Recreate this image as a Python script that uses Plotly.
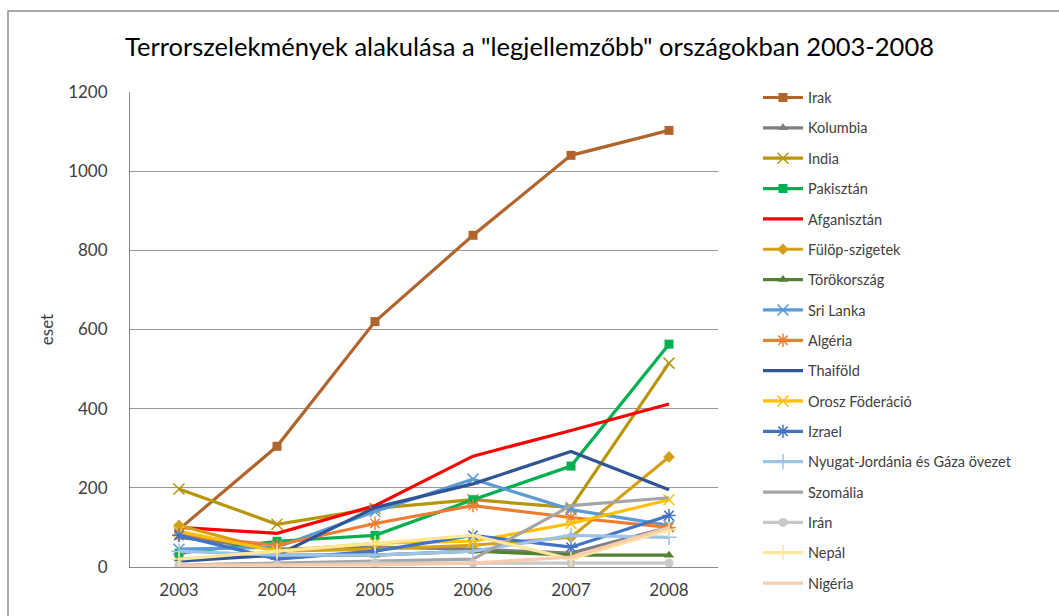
import plotly.graph_objects as go

years = ["2003", "2004", "2005", "2006", "2007", "2008"]

irak = [95, 305, 620, 838, 1040, 1103]
kolumbia = [75, 45, 50, 45, 35, 100]
india = [197, 108, 148, 170, 150, 515]
pakisztan = [35, 65, 80, 170, 255, 563]
afganisztan = [100, 85, 155, 280, 345, 412]
fulop = [105, 40, 45, 55, 75, 278]
torokorszag = [20, 30, 30, 40, 30, 30]
sri_lanka = [45, 50, 140, 222, 145, 105]
algeria = [80, 55, 110, 155, 125, 100]
thaifold = [15, 30, 150, 210, 292, 195]
orosz = [90, 40, 60, 65, 110, 170]
izrael = [80, 20, 40, 80, 50, 130]
nyugat = [40, 30, 30, 40, 80, 75]
szomalia = [5, 10, 15, 20, 155, 175]
iran = [5, 5, 10, 10, 10, 10]
nepal = [20, 40, 60, 80, 20, 95]
nigeria = [5, 5, 5, 10, 25, 100]

series = [
    ("Irak", irak, "#B0652D", "square"),
    ("Kolumbia", kolumbia, "#7F7F7F", "triangle-up"),
    ("India", india, "#B8960C", "x-thin"),
    ("Pakisztán", pakisztan, "#00B050", "square"),
    ("Afganisztán", afganisztan, "#FF0000", None),
    ("Fülöp-szigetek", fulop, "#D4A017", "diamond"),
    ("Törökország", torokorszag, "#548235", "triangle-up"),
    ("Sri Lanka", sri_lanka, "#5B9BD5", "x-thin"),
    ("Algéria", algeria, "#ED7D31", "asterisk"),
    ("Thaiföld", thaifold, "#2F5597", None),
    ("Orosz Föderáció", orosz, "#FFC000", "x-thin"),
    ("Izrael", izrael, "#4472C4", "asterisk"),
    ("Nyugat-Jordánia és Gáza övezet", nyugat, "#9DC3E6", "cross-thin"),
    ("Szomália", szomalia, "#A5A5A5", None),
    ("Irán", iran, "#C9C9C9", "circle"),
    ("Nepál", nepal, "#FFE699", "cross-thin"),
    ("Nigéria", nigeria, "#F8CBAD", None),
]

fig = go.Figure()
for name, vals, color, sym in series:
    if sym:
        thin = sym in ("x-thin", "cross-thin", "asterisk")
        marker = dict(symbol=sym, size=11 if thin else 9, color=color,
                      line=dict(color=color, width=1.5 if thin else 0))
        mode = "lines+markers"
    else:
        marker = None
        mode = "lines"
    fig.add_trace(go.Scatter(
        x=years, y=vals, name=name, mode=mode,
        line=dict(color=color, width=3.2),
        marker=marker, legendgroup=name,
    ))

fig.update_layout(
    width=1059, height=616,
    paper_bgcolor="white", plot_bgcolor="white",
    font=dict(family="Lato, Open Sans, sans-serif", color="#404040", size=14),
    title=dict(text='Terrorszelekmények alakulása a "legjellemzőbb" országokban 2003-2008',
               x=0.5, xanchor="center", y=1 - 47 / 616, yanchor="middle",
               font=dict(size=25.5, color="#000000")),
    margin=dict(l=130, r=341, t=92, b=49),
    showlegend=True,
    legend=dict(x=1.068, xanchor="left", y=1.022, yanchor="top", maxheight=1,
                font=dict(size=14.5, color="#404040"), tracegroupgap=8.5,
                itemwidth=40, bgcolor="rgba(0,0,0,0)"),
    xaxis=dict(type="category", range=[-0.5, 5.5], showgrid=False, showline=True,
               linecolor="#888888", linewidth=1, ticks="", ticklabelstandoff=8,
               tickfont=dict(size=17, color="#404040")),
    yaxis=dict(range=[0, 1200], dtick=200, showgrid=True, gridcolor="#999999",
               gridwidth=1, showline=True, linecolor="#888888", linewidth=1,
               zeroline=False, ticks="", ticklabelstandoff=18,
               tickfont=dict(size=17, color="#404040"),
               title=dict(text="eset", font=dict(size=17, color="#404040"), standoff=10)),
    shapes=[dict(type="rect", xref="paper", yref="paper", x0=(8 - 130) / 588, x1=1.7,
                 y0=-0.3, y1=(567 - 11) / 475, line=dict(color="#8C8C8C", width=1.5))],
)

fig.write_html("out.html", config={"displayModeBar": False},
               post_script="document.body.style.margin='0';")
